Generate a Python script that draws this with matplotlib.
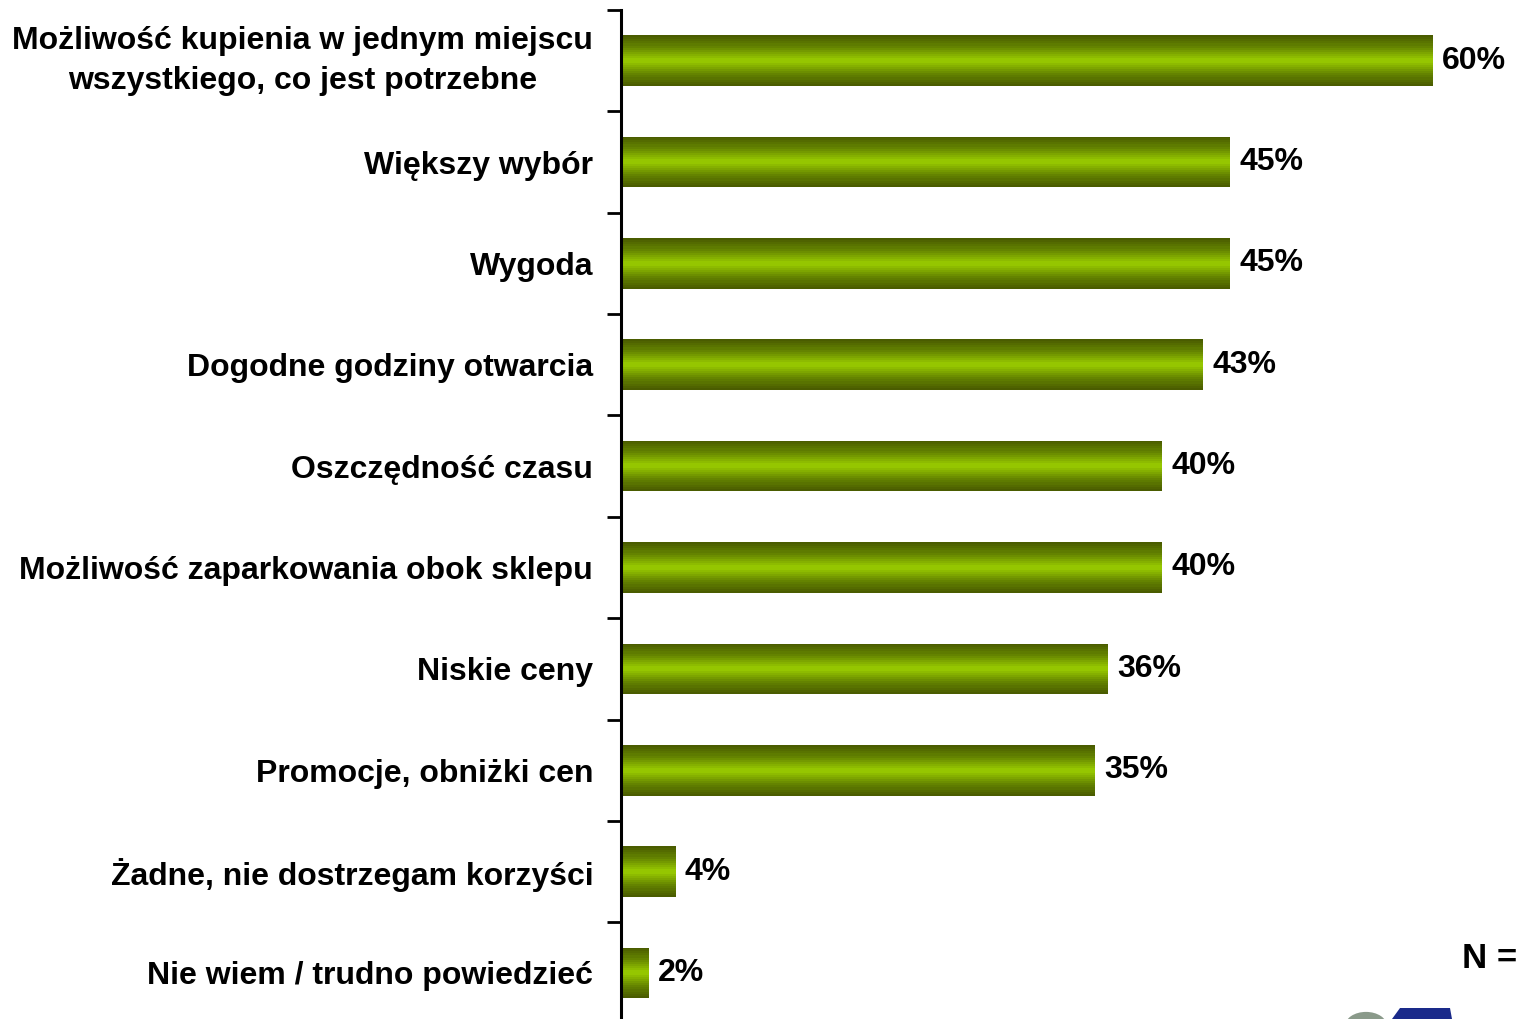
import numpy as np
import matplotlib
matplotlib.use("Agg")
import matplotlib.pyplot as plt
from matplotlib.colors import LinearSegmentedColormap
from matplotlib.patches import Circle, Polygon

categories = [
    "Możliwość kupienia w jednym miejscu\nwszystkiego, co jest potrzebne",
    "Większy wybór",
    "Wygoda",
    "Dogodne godziny otwarcia",
    "Oszczędność czasu",
    "Możliwość zaparkowania obok sklepu",
    "Niskie ceny",
    "Promocje, obniżki cen",
    "Żadne, nie dostrzegam korzyści",
    "Nie wiem / trudno powiedzieć",
]
values = [60, 45, 45, 43, 40, 40, 36, 35, 4, 2]
value_labels = [f"{v}%" for v in values]

plt.rcParams['font.family'] = ['Liberation Sans', 'DejaVu Sans']

fig = plt.figure(figsize=(15.17, 10.19), dpi=100)
ax = fig.add_axes([621/1517, -4.6/1019, (1517-621)/1517, (1023.6-10)/1019])

y = np.arange(len(categories))
bars = ax.barh(y, values, height=0.5, color='none', edgecolor='none')

cmap = LinearSegmentedColormap.from_list(
    'g', [(0, '#4a5c00'), (0.2, '#628000'), (0.5, '#99cc00'), (0.8, '#628000'), (1, '#4a5c00')])
grad = np.linspace(0, 1, 24).reshape(-1, 1)
for b in bars:
    x0, y0 = b.get_x(), b.get_y()
    w, h = b.get_width(), b.get_height()
    im = ax.imshow(grad, cmap=cmap, aspect='auto', interpolation='nearest',
                   extent=(x0, x0 + w, y0 + h, y0), zorder=2)
    im.set_clip_path(b)

for yi, v, lab in zip(y, values, value_labels):
    ax.annotate(lab, xy=(v, yi), xytext=(7, 0), textcoords='offset points',
                va='center', ha='left', fontsize=23, fontweight='bold', clip_on=False)

ax.set_xlim(0, (1517 - 621) / 13.52)
ax.set_ylim(len(categories) - 0.5, -0.5)
ax.set_yticks(y)
ax.set_yticklabels(categories, fontsize=23, fontweight='bold',
                   multialignment='center', linespacing=1.45)
ax.get_yticklabels()[0].set_verticalalignment('center')
ax.set_yticks(np.arange(-0.5, len(categories), 1), minor=True)
ax.tick_params(axis='y', which='major', length=0, pad=20)
ax.tick_params(axis='y', which='minor', length=10, width=2, direction='out')
ax.set_xticks([])
for s in ['top', 'right', 'bottom']:
    ax.spines[s].set_visible(False)
ax.spines['left'].set_linewidth(2.2)
ax.set_facecolor('none')

fig.text(1462/1517, 1 - 958/1019, "N =", fontsize=25, fontweight='bold', va='center', ha='left')

# partially visible logo at bottom-right (graphic only)
fig.patches.append(Circle((1366/1517, 1 - 1026/1019), 21/1517, transform=fig.transFigure,
                          facecolor='#8a9a8a', edgecolor='none', figure=fig))
fig.patches.append(Polygon([(1392/1517, 0), (1400/1517, 1 - 1008/1019),
                            (1450/1517, 1 - 1008/1019), (1452/1517, 0)],
                           closed=True, transform=fig.transFigure,
                           facecolor='#1a2a8a', edgecolor='none', figure=fig))

fig.savefig("out.png", dpi=100)
